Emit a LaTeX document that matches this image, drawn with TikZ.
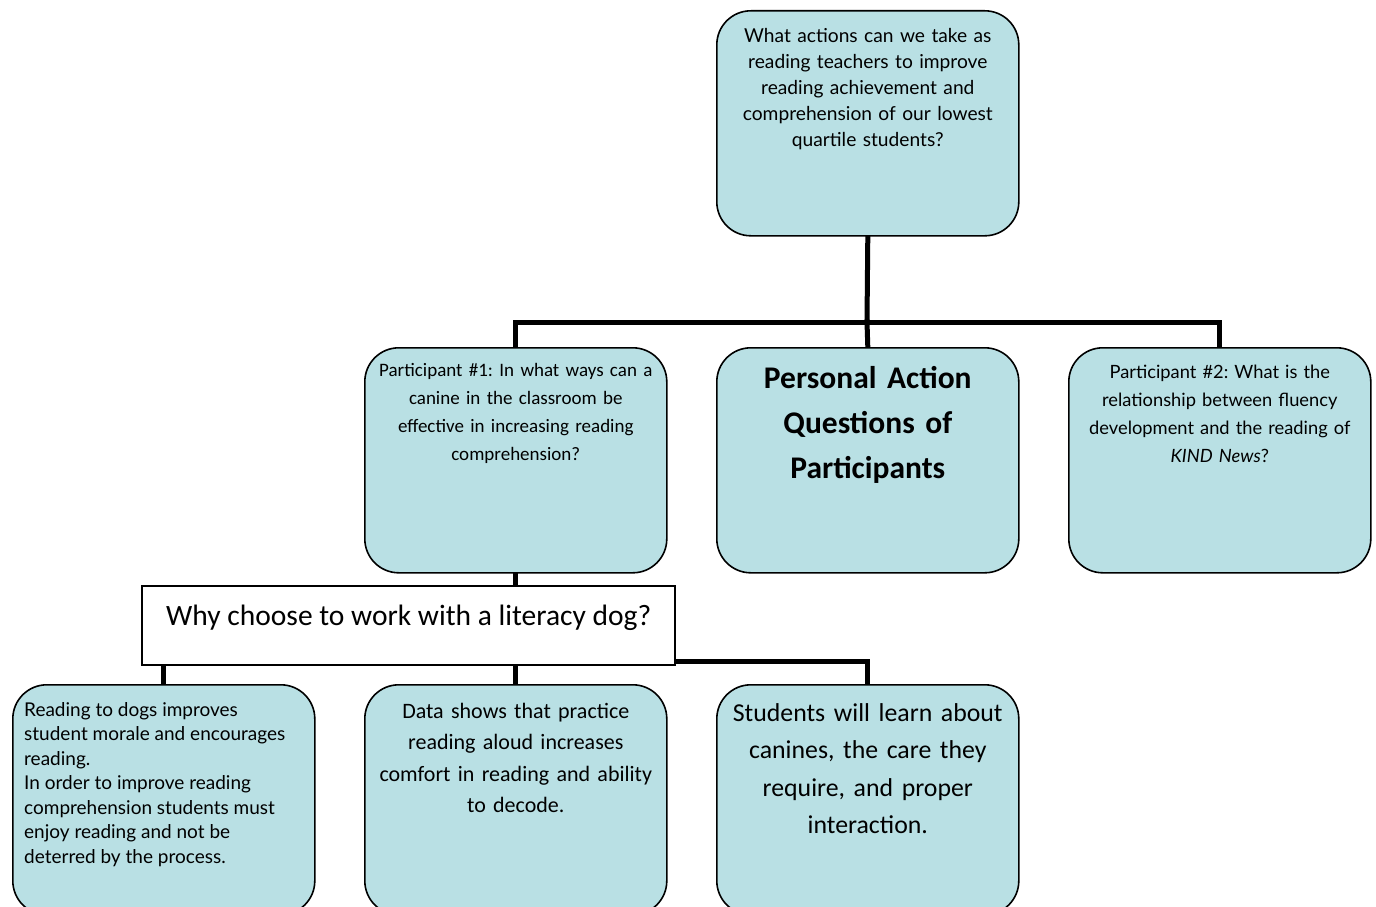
\documentclass[tikz,border=0pt]{standalone}
\usepackage{fontspec}
\usetikzlibrary{backgrounds}
\setmainfont{Carlito}
\newfontfamily\cand{Lato}
\frenchspacing
\definecolor{boxfill}{RGB}{185,224,228}
\tikzset{
  qbox/.style={draw=black, line width=1.6pt, fill=boxfill, rounded corners=34pt,
    minimum width=302pt, minimum height=225pt, inner sep=0pt, anchor=north west},
  lowbox/.style={qbox, minimum height=230pt},
  txt/.style={inner sep=0pt, anchor=north, align=center},
  conn/.style={line width=5pt, line cap=rect},
}
\begin{document}
\begin{tikzpicture}[x=1pt,y=-1pt]
\useasboundingbox (0,0) rectangle (1376,907);
% boxes
\node[qbox] (top) at (716,10) {};
\node[qbox] (p1) at (364,347) {};
\node[qbox] (pac) at (716,347) {};
\node[qbox] (p2) at (1068,347) {};
\node[draw=black, line width=1.6pt, fill=white, minimum width=533pt, minimum height=79pt,
  inner sep=0pt, anchor=north west] (why) at (141,585) {};
\node[lowbox] (b1) at (12,684) {};
\node[lowbox] (b2) at (364,684) {};
\node[lowbox] (b3) at (716,684) {};
% connectors
\begin{scope}[on background layer]
\coordinate (hy) at (867,322);
\draw[conn] (top.south) -- (hy);
\draw[conn] (p1.north) |- (hy) -| (p2.north);
\draw[conn] (hy) -- (pac.north);
\draw[conn] (p1.south) -- (why.north -| p1.south);
\draw[conn] (why.south -| b1.north) -- (b1.north);
\draw[conn] (why.south -| b2.north) -- (b2.north);
\coordinate (wr) at ([yshift=4pt]why.south east);
\draw[conn] (wr) -| (b3.north);
\end{scope}
% texts
\node[txt, text width=295pt, font={\cand\fontsize{19.2}{26}\selectfont}] (ttop) at ([yshift=-18pt]top.north)
 {What actions can we take as\\reading teachers to improve\\reading achievement and\\comprehension of our lowest\\quartile students?};
\node[txt, text width=300pt, font={\fontsize{19}{28}\selectfont}] (tp1) at ([yshift=-16.5pt]p1.north)
 {Participant \#1: In what ways can a\\canine in the classroom be\\effective in increasing reading\\comprehension?};
\node[txt, text width=300pt, font={\bfseries\fontsize{31.5}{45}\selectfont}] (tpac) at ([yshift=-19pt]pac.north)
 {Personal Action\\Questions of\\Participants};
\node[txt, text width=300pt, font={\cand\fontsize{18.3}{28}\selectfont}] (tp2) at ([yshift=-17.5pt]p2.north)
 {Participant \#2: What is the\\relationship between fluency\\development and the reading of\\\textit{KIND News}?};
\node[inner sep=0pt, anchor=west, font={\fontsize{29.5}{33}\selectfont}] (twhy) at (166,618)
 {Why choose to work with a literacy dog?};
\node[inner sep=0pt, anchor=north west, align=left, font={\cand\fontsize{19}{24.5}\selectfont}] (tb1) at (24,702)
 {Reading to dogs improves\\student morale and encourages\\reading.\\In order to improve reading\\comprehension students must\\enjoy reading and not be\\deterred by the process.};
\node[txt, text width=300pt, font={\fontsize{22}{31.5}\selectfont}] (tb2) at ([yshift=-19pt]b2.north)
 {Data shows that practice\\reading aloud increases\\comfort in reading and ability\\to decode.};
\node[txt, text width=300pt, font={\fontsize{25.8}{37.5}\selectfont}] (tb3) at ([yshift=-19pt]b3.north)
 {Students will learn about\\canines, the care they\\require, and proper\\interaction.};
\end{tikzpicture}
\end{document}
